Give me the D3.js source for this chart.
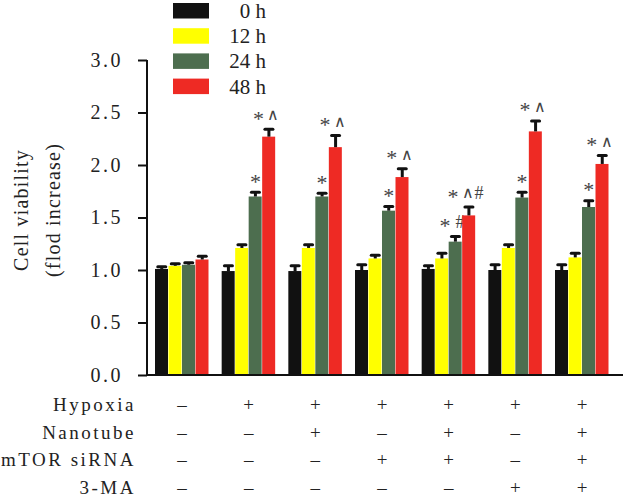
<!DOCTYPE html>
<html><head><meta charset="utf-8">
<script src="https://cdn.jsdelivr.net/npm/d3@7"></script>
<style>body{margin:0;background:#fff}svg{display:block}text{font-family:"Liberation Serif","Times New Roman",serif}</style>
</head><body><svg id="c" width="625" height="497"></svg>
<script>
const groups = ["G1","G2","G3","G4","G5","G6","G7"];
const series = ["0 h","12 h","24 h","48 h"];
const colors = ["#111111","#ffff00","#4d6e4f","#ee2a24"];
const v0h  = [1.01, 0.99, 0.99, 1.00, 1.01, 1.00, 1.00];
const v12h = [1.04, 1.21, 1.21, 1.11, 1.11, 1.21, 1.12];
const v24h = [1.05, 1.70, 1.70, 1.565, 1.27, 1.69, 1.60];
const v48h = [1.10, 2.27, 2.17, 1.885, 1.52, 2.32, 2.01];
const e0h  = [0.02, 0.05, 0.05, 0.05, 0.03, 0.05, 0.05];
const e12h = [0.02, 0.03, 0.03, 0.03, 0.05, 0.03, 0.04];
const e24h = [0.02, 0.04, 0.03, 0.04, 0.05, 0.05, 0.06];
const e48h = [0.03, 0.07, 0.11, 0.08, 0.08, 0.10, 0.08];
const a24h = ["", "*", "*", "*", "*#", "*", "*"];
const a48h = ["", "*\u2227", "*\u2227", "*\u2227", "*\u2227#", "*\u2227", "*\u2227"];
const rowLabels = ["Hypoxia","Nanotube","mTOR siRNA","3-MA"];
const rowHypoxia  = ["\u2013","+","+","+","+","+","+"];
const rowNanotube = ["\u2013","\u2013","+","\u2013","+","\u2013","+"];
const rowSiRNA    = ["\u2013","\u2013","\u2013","+","+","\u2013","+"];
const row3MA      = ["\u2013","\u2013","\u2013","\u2013","\u2013","+","+"];
const yTicks = [0, 0.5, 1.0, 1.5, 2.0, 2.5, 3.0];

const values = [v0h, v12h, v24h, v48h];
const errs = [e0h, e12h, e24h, e48h];
const annots = [null, null, a24h, a48h];
const rows = [rowHypoxia, rowNanotube, rowSiRNA, row3MA];

const svg = d3.select("#c");
const y = d3.scaleLinear().domain([0,3]).range([375,60]);
const x = d3.scaleBand().domain(groups).range([147,617]).paddingInner(0.19).paddingOuter(0.12);
const xi = d3.scaleBand().domain(series).range([0, x.bandwidth()]);

// symbol style: advance, font-size, baseline offset from visual centre, family
const sym = {
  "*": {adv: 15, fs: 22, off: 10.5, fam: "Liberation Serif"},
  "\u2227": {adv: 11, fs: 16, off: 5, fam: "DejaVu Sans"},
  "#": {adv: 11, fs: 18, off: 6, fam: "Liberation Serif"}
};

function drawAnnot(g, str, cx, cy) {
  const chars = Array.from(str);
  const pos = [0];
  for (let i = 1; i < chars.length; i++) pos.push(pos[i-1] + sym[chars[i-1]].adv);
  const span = pos[pos.length-1];
  const shift = chars.length > 1 ? -3 : 0;
  chars.forEach((c, i) => {
    const s = sym[c];
    g.append("text").attr("x", cx - span/2 + pos[i] + shift).attr("y", cy + s.off)
      .attr("text-anchor","middle").attr("font-size", s.fs).attr("font-family", s.fam)
      .attr("fill", "#444").text(c);
  });
}

// bars
series.forEach((s, si) => {
  const g = svg.append("g");
  groups.forEach((gr, gi) => {
    const val = values[si][gi], er = errs[si][gi];
    const bx = x(gr) + xi(s), bw = xi.bandwidth();
    g.append("rect").attr("x", bx).attr("y", y(val)).attr("width", bw - 0.5)
      .attr("height", y(0) - y(val)).attr("fill", colors[si]);
    const cx = bx + bw/2;
    g.append("line").attr("x1", cx).attr("x2", cx).attr("y1", y(val)).attr("y2", y(val+er))
      .attr("stroke", "#111").attr("stroke-width", 3);
    g.append("line").attr("x1", cx-4).attr("x2", cx+4).attr("y1", y(val+er)).attr("y2", y(val+er))
      .attr("stroke", "#111").attr("stroke-width", 3).attr("stroke-linecap","round");
    if (annots[si] && annots[si][gi]) drawAnnot(g, annots[si][gi], cx, y(val+er) - 14);
  });
});

// y axis
const ya = svg.append("g").attr("transform","translate(147,0)")
  .call(d3.axisLeft(y).tickValues(yTicks).tickFormat(d3.format(".1f")).tickSize(9).tickPadding(15));
ya.selectAll("path,line").attr("stroke","#111").attr("stroke-width",2);
ya.select(".domain").attr("d","M0,60V375");
ya.selectAll("text").attr("font-size",20).attr("fill","#222").attr("font-family","Liberation Serif")
  .attr("letter-spacing", 2.5);

// x axis line
svg.append("line").attr("x1",146).attr("x2",623).attr("y1",375).attr("y2",375)
  .attr("stroke","#111").attr("stroke-width",2);

// y title
const yt = svg.append("g").attr("transform","translate(0,210) rotate(-90)");
yt.append("text").attr("x",0).attr("y",28).attr("text-anchor","middle").attr("font-size",20)
  .attr("letter-spacing",1.2).attr("fill","#222").text("Cell viability");
yt.append("text").attr("x",0).attr("y",60).attr("text-anchor","middle").attr("font-size",20)
  .attr("letter-spacing",1.2).attr("fill","#222").text("(flod increase)");

// legend
const lg = svg.append("g");
series.forEach((s, i) => {
  const base = 18 + i*25.2;
  lg.append("rect").attr("x",173).attr("y",base-15).attr("width",36).attr("height",15.5).attr("fill",colors[i]);
  lg.append("text").attr("x",266).attr("y",base).attr("text-anchor","end")
    .attr("font-size",21).attr("fill","#222").text(s);
});

// condition table
rowLabels.forEach((lab, ri) => {
  const base = 411 + ri*27.7;
  svg.append("text").attr("x",136).attr("y",base).attr("text-anchor","end")
    .attr("font-size",19).attr("letter-spacing",2.5).attr("fill","#222").text(lab);
  groups.forEach((gr, gi) => {
    svg.append("text").attr("x", x(gr) + x.bandwidth()/2).attr("y",base)
      .attr("text-anchor","middle").attr("font-size",19).attr("fill","#222").text(rows[ri][gi]);
  });
});
</script></body></html>
